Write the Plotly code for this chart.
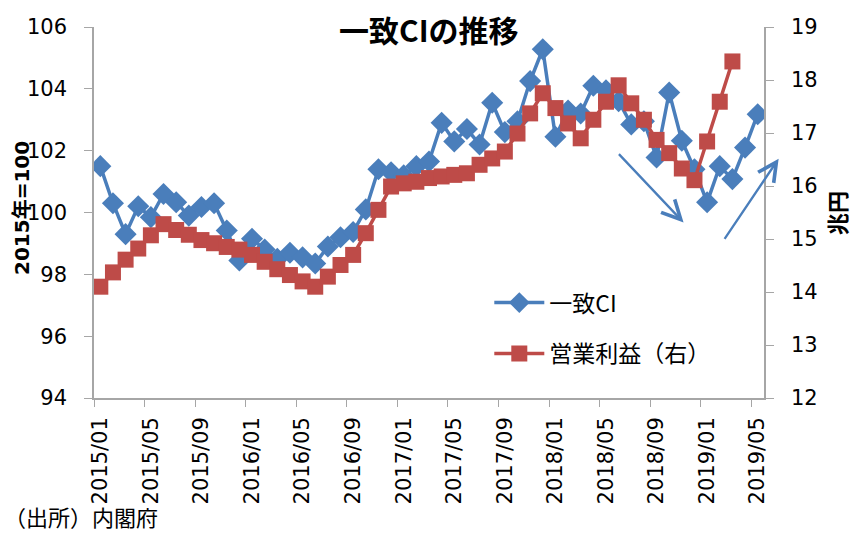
import plotly.graph_objects as go

months = [f"{y}/{m:02d}" for y in range(2015, 2020) for m in range(1, 13)][:53]

ci = [101.5, 100.3, 99.3, 100.2, 99.85, 100.6, 100.33, 99.9, 100.18, 100.3,
      99.42, 98.45, 99.15, 98.8, 98.5, 98.7, 98.55, 98.35, 98.9, 99.2,
      99.37, 100.1, 101.4, 101.3, 101.2, 101.5, 101.65, 102.9, 102.3, 102.7,
      102.2, 103.55, 102.6, 102.95, 104.25, 105.28, 102.45, 103.3, 103.2, 104.1,
      103.95, 103.6, 102.85, 102.95, 101.78, 103.88, 102.32, 101.4, 100.33, 101.5,
      101.08, 102.1, 103.18]

profit = [14.10, 14.37, 14.61, 14.82, 15.07, 15.28, 15.17, 15.08, 14.98, 14.92,
          14.85, 14.80, 14.70, 14.57, 14.43, 14.32, 14.20, 14.10, 14.29, 14.51,
          14.70, 15.11, 15.55, 15.99, 16.05, 16.08, 16.15, 16.18, 16.21, 16.24,
          16.40, 16.52, 16.65, 16.99, 17.37, 17.75, 17.47, 17.18, 16.90, 17.25,
          17.59, 17.90, 17.56, 17.25, 16.87, 16.62, 16.33, 16.11, 16.84, 17.59,
          18.35, None, None]

tick_idx = list(range(0, 53, 4))
tick_text = [months[i] for i in tick_idx]

BLUE = "#4a7ebb"
RED = "#be4b48"
AXC = "#a6a6a6"

x = list(range(len(months)))

fig = go.Figure()
fig.add_trace(go.Scatter(
    x=x, y=ci, name="一致CI", mode="lines+markers",
    line=dict(color=BLUE, width=3.5),
    marker=dict(symbol="diamond", size=17, color=BLUE),
    legendgroup="a", yaxis="y"))
fig.add_trace(go.Scatter(
    x=x, y=profit, name="営業利益（右）", mode="lines+markers",
    line=dict(color=RED, width=3.5),
    marker=dict(symbol="square", size=16, color=RED),
    legendgroup="b", yaxis="y2"))

fig.update_layout(
    width=855, height=534,
    margin=dict(l=94, r=91, t=27, b=136, autoexpand=False),
    paper_bgcolor="white", plot_bgcolor="white",
    font=dict(family="DejaVu Sans, Noto Sans CJK JP", color="#000000"),
    xaxis=dict(
        range=[-0.5, 52.5], tickmode="array", tickvals=tick_idx, ticktext=tick_text,
        tickangle=-90, ticks="", ticklen=0, showgrid=False, zeroline=False,
        showline=True, linecolor=AXC, linewidth=1.5, automargin=False,
        ticklabelstandoff=9,
        tickfont=dict(family="DejaVu Sans", size=21, color="#000"),
        minor=dict(tickmode="array", tickvals=[i - 0.5 for i in tick_idx],
                   ticks="outside", ticklen=7, tickcolor=AXC, tickwidth=1.3,
                   showgrid=False),
    ),
    yaxis=dict(
        range=[94, 106], dtick=2, tick0=94, ticks="outside", ticklen=8,
        tickcolor=AXC, tickwidth=1.3, showgrid=False, zeroline=False,
        showline=True, linecolor=AXC, linewidth=1.5, automargin=False,
        ticklabelstandoff=13,
        tickfont=dict(family="DejaVu Sans", size=21, color="#000"),
    ),
    yaxis2=dict(
        range=[12, 19], dtick=1, tick0=12, overlaying="y", side="right",
        ticks="outside", ticklen=8, tickcolor=AXC, tickwidth=1.3,
        showgrid=False, zeroline=False, showline=True, linecolor=AXC,
        linewidth=1.5, automargin=False, ticklabelstandoff=13,
        tickfont=dict(family="DejaVu Sans", size=21, color="#000"),
    ),
    showlegend=True,
    legend=dict(x=0.59, y=0.315, xanchor="left", yanchor="top",
                itemwidth=50,
                bgcolor="rgba(0,0,0,0)", traceorder="grouped",
                tracegroupgap=18,
                font=dict(family="Noto Sans CJK JP", size=23, color="#000")),
)

anns = [
    dict(text="<b>一致CIの推移</b>", x=0.5, y=(398 - 29) / 371, xref="paper",
         yref="paper", xanchor="center", yanchor="middle", showarrow=False,
         font=dict(family="Noto Sans CJK JP", size=30, color="#000")),
    dict(text="<b>2015年=100</b>", x=(22 - 94) / 670, y=(398 - 208) / 371,
         xref="paper", yref="paper", xanchor="center", yanchor="middle",
         textangle=-90, showarrow=False,
         font=dict(family="DejaVu Sans, Noto Sans CJK JP", size=20, color="#000")),
    dict(text="<b>兆円</b>", x=(836 - 94) / 670, y=(398 - 213) / 371,
         xref="paper", yref="paper", xanchor="center", yanchor="middle",
         textangle=-90, showarrow=False,
         font=dict(family="Noto Sans CJK JP", size=22, color="#000")),
    dict(text="（出所）内閣府", x=(2 - 94) / 670, y=(398 - 516) / 371,
         xref="paper", yref="paper", xanchor="left", yanchor="middle",
         showarrow=False,
         font=dict(family="Noto Sans CJK JP", size=22, color="#000")),
    # trend arrows
    dict(x=(683 - 100.3) / 12.63, y=94 + (398 - 222) / 31,
         ax=(617 - 100.3) / 12.63, ay=94 + (398 - 152) / 31,
         xref="x", yref="y", axref="x", ayref="y", text="", showarrow=True,
         arrowhead=5, arrowsize=1.6, arrowwidth=2.3, arrowcolor=BLUE),
    dict(x=(778 - 100.3) / 12.63, y=94 + (398 - 158) / 31,
         ax=(723 - 100.3) / 12.63, ay=94 + (398 - 240) / 31,
         xref="x", yref="y", axref="x", ayref="y", text="", showarrow=True,
         arrowhead=5, arrowsize=1.6, arrowwidth=2.3, arrowcolor=BLUE),
]
fig.update_layout(annotations=anns)

fig.write_html(
    "out.html",
    config={"displayModeBar": False},
    post_script="document.body.style.margin='0';document.body.style.overflow='hidden';",
)
